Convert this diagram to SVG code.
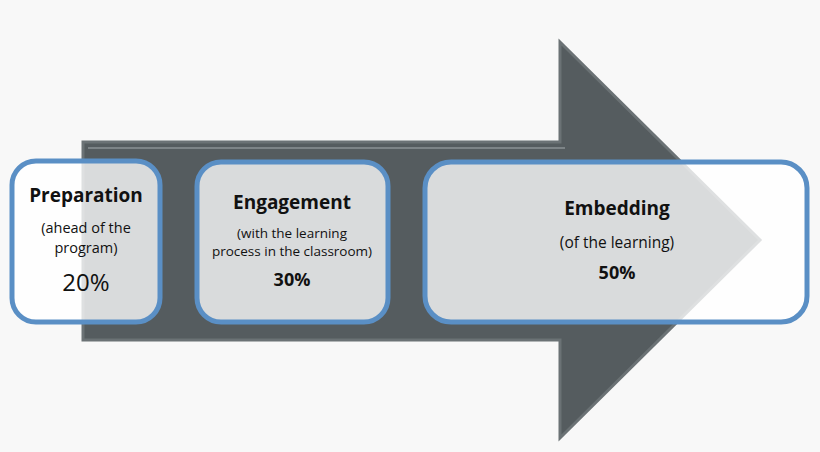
<svg xmlns="http://www.w3.org/2000/svg" width="820" height="452" viewBox="0 0 820 452">
<style>
.box{fill:#ffffff;fill-opacity:0.78;stroke:#5a8fc5;stroke-width:5}
text{font-family:"Open Sans","Noto Sans",sans-serif;fill:#111;text-anchor:middle}
.t{font-weight:bold;font-size:19px}
.s{font-size:14.5px}
.p{font-size:24px}
.pb{font-weight:bold;font-size:18px}
</style>
<rect width="820" height="452" fill="#f8f8f8"/>
<g id="arrow">
<path d="M83,142 H560 V42 L760,240 L560,438 V340 H83 Z" fill="#555c5f" stroke="#6b7275" stroke-width="3"/>
<path d="M88,148 H565" stroke="#7d8487" stroke-width="2" fill="none"/>
</g>
<g id="preparation">
<rect class="box" x="12" y="161" width="148" height="161" rx="24"/>
<text class="t" x="86" y="202">Preparation</text>
<text class="s" x="86" y="233">(ahead of the</text>
<text class="s" x="86" y="253">program)</text>
<text class="p" x="86" y="291">20%</text>
</g>
<g id="engagement">
<rect class="box" x="197" y="162" width="191" height="160" rx="24"/>
<text class="t" x="292" y="209">Engagement</text>
<text class="s" x="292" y="238" style="font-size:13.5px">(with the learning</text>
<text class="s" x="292" y="256" style="font-size:13.5px">process in the classroom)</text>
<text class="pb" x="292" y="286">30%</text>
</g>
<g id="embedding">
<rect class="box" x="425" y="162" width="382" height="160" rx="26"/>
<text class="t" x="617" y="215">Embedding</text>
<text class="s" x="617" y="248" style="font-size:15.5px">(of the learning)</text>
<text class="pb" x="617" y="279">50%</text>
</g>
<g id="connectors"/>
</svg>
